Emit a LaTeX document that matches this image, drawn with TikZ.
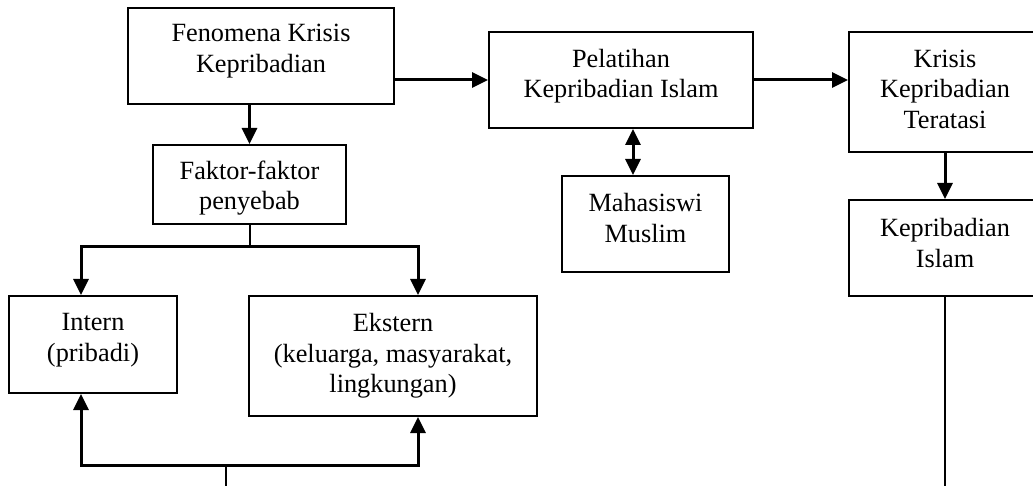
\documentclass[tikz,border=0pt]{standalone}
\usepackage{fontspec}
\setmainfont{Liberation Serif}
\usetikzlibrary{arrows.meta,calc}
\tikzset{
  box/.style={draw, line width=2pt, rectangle, inner sep=0pt},
  txt/.style={inner sep=0pt, align=center, font=\fontsize{26.3}{30.5}\selectfont},
  conn/.style={line width=3pt},
  thinconn/.style={line width=2pt},
  arr/.style={line width=3pt, -{Triangle[length=16pt,width=15pt]}},
  dblarr/.style={line width=3pt, {Triangle[length=16pt,width=15pt]}-{Triangle[length=16pt,width=15pt]}},
}
\begin{document}
\begin{tikzpicture}[x=1pt,y=-1pt]
\clip (0,0) rectangle (1033,486);
\fill[white] (0,0) rectangle (1033,486);
% boxes
\node[box, minimum width=266pt, minimum height=96pt] (fen) at (261,56) {};
\node[box, minimum width=264pt, minimum height=96pt] (pel) at (621,80) {};
\node[box, minimum width=192pt, minimum height=120pt] (kri) at (945,92) {};
\node[box, minimum width=192pt, minimum height=96pt] (kis) at (945,248) {};
\node[box, minimum width=193pt, minimum height=79pt] (fak) at (249.5,184.5) {};
\node[box, minimum width=167pt, minimum height=96pt] (mah) at (645.5,224) {};
\node[box, minimum width=168pt, minimum height=97pt] (int) at (93,344.5) {};
\node[box, minimum width=288pt, minimum height=120pt] (eks) at (393,356) {};
% texts
\node[txt] (tfen) at (261,51) {Fenomena Krisis\\Kepribadian};
\node[txt] (tpel) at (621,76) {Pelatihan\\Kepribadian Islam};
\node[txt] (tkri) at (945,89) {Krisis\\Kepribadian\\Teratasi};
\node[txt] (tkis) at (945,243) {Kepribadian\\Islam};
\node[txt] (tfak) at (249.5,188) {Faktor-faktor\\penyebab};
\node[txt] (tmah) at (645.5,218) {Mahasiswi\\Muslim};
\node[txt] (tint) at (93,340) {Intern\\(pribadi)};
\node[txt] (teks) at (393,356) {Ekstern\\(keluarga, masyarakat,\\lingkungan)};
% helper coordinates
\coordinate (dx) at (633,0);
\coordinate (br) at (249.5,247);
\coordinate (la) at (81,0);
\coordinate (ra) at (418,0);
\coordinate (bm) at (226,465);
\coordinate (bend) at (226,495);
% connectors
\draw[arr] (fen.east |- pel.west) -- (pel.west);
\draw[arr] (pel.east) -- (pel.east -| kri.west);
\draw[arr] (fen.south -| fak.north) -- (fak.north);
\draw[arr] (kri.south) -- (kis.north);
\draw[dblarr] (pel.south -| dx) -- (mah.north -| dx);
\draw[thinconn] (fak.south) -- (br);
\draw[arr] (br) -| (la |- int.north);
\draw[arr] (br) -| (ra |- eks.north);
\draw[arr] (bm) -| (la |- int.south);
\draw[arr] (bm) -| (ra |- eks.south);
\draw[thinconn] (bm) -- (bend);
\draw[thinconn] (kis.south) -- (kis.south |- bend);
\end{tikzpicture}
\end{document}
